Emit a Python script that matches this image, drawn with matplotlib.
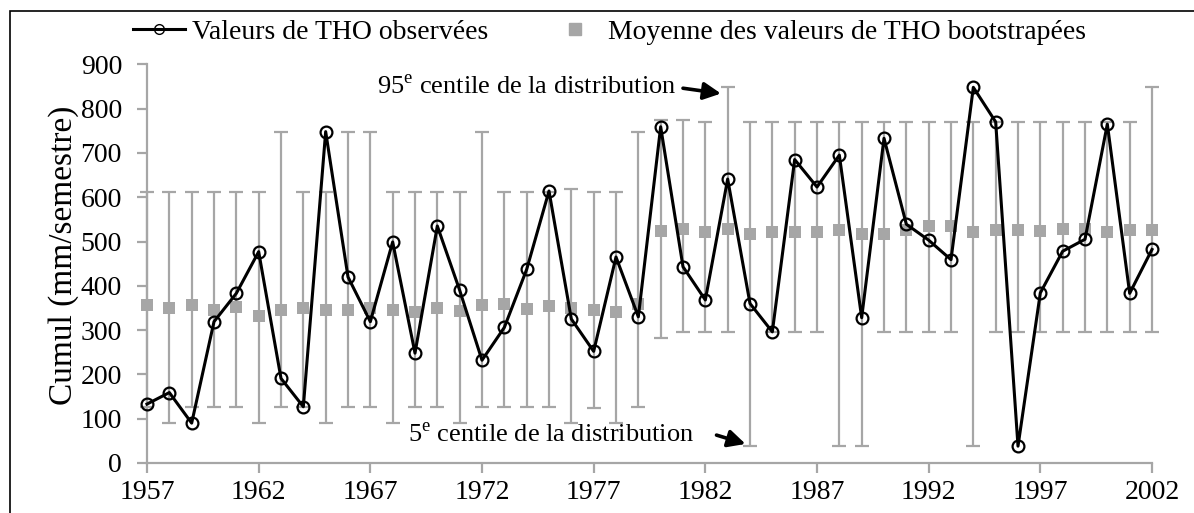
import matplotlib
matplotlib.use("Agg")
import matplotlib.pyplot as plt
from matplotlib.lines import Line2D
from matplotlib.patches import Rectangle

plt.rcParams['font.family'] = ['Liberation Serif', 'DejaVu Serif']
plt.rcParams['mathtext.fontset'] = 'custom'
plt.rcParams['mathtext.rm'] = 'Liberation Serif'

# data
years = list(range(1957, 2003))
observed = [133, 159, 90, 319, 383, 477, 191, 127, 748, 420,
            319, 499, 248, 535, 390, 232, 306, 437, 614, 325,
            252, 465, 330, 759, 443, 368, 641, 360, 296, 685,
            623, 695, 328, 733, 539, 503, 459, 848, 770, 38,
            384, 478, 505, 765, 383, 482]
boot_mean = [356, 349, 356, 346, 352, 331, 346, 350, 346, 346,
             349, 345, 340, 351, 343, 356, 358, 347, 354, 351,
             346, 340, 358, 523, 529, 521, 529, 516, 521, 521,
             521, 526, 518, 516, 526, 534, 536, 521, 527, 526,
             523, 529, 529, 521, 527, 527]
p95 = [612, 612, 612, 612, 612, 612, 748, 612, 612, 748,
       748, 612, 612, 612, 612, 748, 612, 612, 612, 618,
       612, 612, 748, 774, 774, 770, 848, 770, 770, 770,
       770, 770, 770, 770, 770, 770, 770, 770, 770, 770,
       770, 770, 770, 770, 770, 848]
p5 = [127, 90, 127, 127, 127, 90, 127, 127, 90, 127,
      127, 90, 127, 127, 90, 127, 127, 127, 127, 90,
      124, 90, 127, 283, 296, 296, 296, 38, 296, 296,
      296, 38, 38, 296, 296, 296, 296, 38, 296, 296,
      296, 296, 296, 296, 296, 296]
xticks = [1957, 1962, 1967, 1972, 1977, 1982, 1987, 1992, 1997, 2002]
yticks = [0, 100, 200, 300, 400, 500, 600, 700, 800, 900]
label_obs = "Valeurs de THO observées"
label_boot = "Moyenne des valeurs de THO bootstrapées"

gray = '#a6a6a6'
W, H = 1194, 513
fig = plt.figure(figsize=(W / 100, H / 100), dpi=100)
ax = fig.add_axes([147 / W, 1 - 463 / H, (1152 - 147) / W, (463 - 64.3) / H])

err_lo = [m - l for m, l in zip(boot_mean, p5)]
err_hi = [h - m for m, h in zip(boot_mean, p95)]
ax.errorbar(years, boot_mean, yerr=[err_lo, err_hi], fmt='none',
            ecolor=gray, elinewidth=1.6, capsize=4.7, capthick=1.6,
            zorder=2, clip_on=False)
ax.plot(years, boot_mean, ls='none', marker='s', color=gray, markersize=8.5,
        markeredgewidth=0, zorder=3, clip_on=False)
ax.plot(years, observed, color='black', lw=2.2, marker='o', markersize=8.5,
        markerfacecolor='none', markeredgecolor='black', markeredgewidth=1.6,
        zorder=4, clip_on=False)

ax.set_xlim(1957, 2002)
ax.set_ylim(0, 900)
ax.set_xticks(xticks)
ax.set_yticks(yticks)
ax.tick_params(axis='both', colors=gray, labelcolor='black', labelsize=20,
               length=7, width=1.6, direction='out')
ax.tick_params(axis='y', pad=11)
ax.tick_params(axis='x', pad=5)
for s in ['top', 'right']:
    ax.spines[s].set_visible(False)
for s in ['left', 'bottom']:
    ax.spines[s].set_color(gray)
    ax.spines[s].set_linewidth(1.6)
ax.set_ylabel("Cumul (mm/semestre)", fontsize=24)
ax.yaxis.set_label_coords(-0.068, 0.52)

arrow = dict(arrowstyle='-|>', color='black', lw=2.6, mutation_scale=26,
             shrinkA=0, shrinkB=0)
ax.annotate("", xy=(1982.7, 834), xytext=(1981.0, 846), arrowprops=arrow)
ax.text(1967.3, 848, "95$^{\\mathrm{e}}$ centile de la distribution",
        fontsize=19, ha='left', va='center')
ax.annotate("", xy=(1983.8, 43), xytext=(1982.5, 63), arrowprops=arrow)
ax.text(1968.7, 62, "5$^{\\mathrm{e}}$ centile de la distribution",
        fontsize=19, ha='left', va='center')

handles = [Line2D([], [], color='black', lw=2.2, marker='o', markersize=7,
                  markerfacecolor='none', markeredgecolor='black'),
           Line2D([], [], color=gray, lw=0, marker='s', markersize=8.5)]
fig.legend(handles, [label_obs, label_boot], loc='center left',
           bbox_to_anchor=(133 / W, 1 - 32 / H), ncol=2, frameon=False,
           fontsize=20, borderpad=0, borderaxespad=0, handlelength=1.87,
           handletextpad=0.25, columnspacing=2.2)

fig.patches.append(Rectangle((10 / W, -0.1), 1.2, 1.1 - 11 / H,
                             transform=fig.transFigure, fill=False,
                             edgecolor='black', lw=1.2))

fig.savefig("out.png", dpi=100)
